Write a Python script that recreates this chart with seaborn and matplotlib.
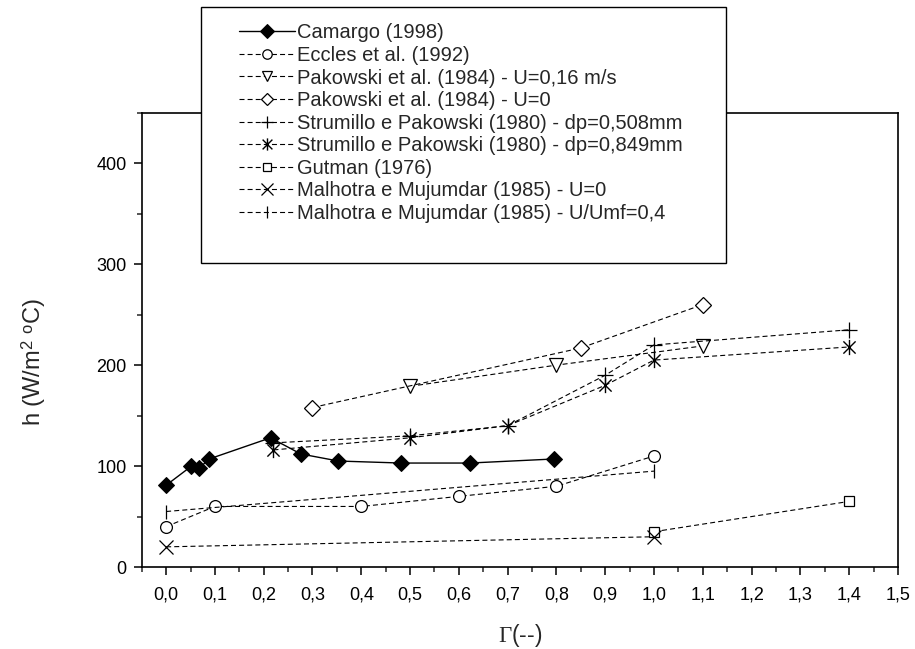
import numpy as np
import matplotlib
matplotlib.use("Agg")
import matplotlib.pyplot as plt
from matplotlib.path import Path
from matplotlib.patches import Rectangle
import seaborn as sns

# ---------------- data ----------------
camargo_x = [0.0, 0.052, 0.068, 0.088, 0.214, 0.276, 0.353, 0.482, 0.622, 0.794]
camargo_y = [81, 100, 98, 107, 128, 112, 105, 103, 103, 107]

eccles_x = [0.0, 0.1, 0.4, 0.6, 0.8, 1.0]
eccles_y = [40, 60, 60, 70, 80, 110]

pak016_x = [0.5, 0.8, 1.1]
pak016_y = [179, 200, 219]

pak0_x = [0.3, 0.85, 1.1]
pak0_y = [158, 217, 260]

str508_x = [0.22, 0.5, 0.7, 0.9, 1.0, 1.4]
str508_y = [123, 130, 140, 190, 220, 235]

str849_x = [0.22, 0.5, 0.7, 0.9, 1.0, 1.4]
str849_y = [116, 128, 140, 180, 205, 218]

gutman_x = [1.0, 1.4]
gutman_y = [35, 65]

malU0_x = [0.0, 1.0]
malU0_y = [20, 30]

malU04_x = [0.0, 1.0]
malU04_y = [55, 95]

labels = [
    "Camargo (1998)",
    "Eccles et al. (1992)",
    "Pakowski et al. (1984) - U=0,16 m/s",
    "Pakowski et al. (1984) - U=0",
    "Strumillo e Pakowski (1980) - dp=0,508mm",
    "Strumillo e Pakowski (1980) - dp=0,849mm",
    "Gutman (1976)",
    "Malhotra e Mujumdar (1985) - U=0",
    "Malhotra e Mujumdar (1985) - U/Umf=0,4",
]

x_ticks = [0.0, 0.1, 0.2, 0.3, 0.4, 0.5, 0.6, 0.7, 0.8, 0.9, 1.0, 1.1, 1.2, 1.3, 1.4, 1.5]
x_tick_labels = ["0,0", "0,1", "0,2", "0,3", "0,4", "0,5", "0,6", "0,7",
                 "0,8", "0,9", "1,0", "1,1", "1,2", "1,3", "1,4", "1,5"]
y_ticks = [0, 100, 200, 300, 400]

# ---------------- style ----------------
sns.set_theme(style="ticks")
plt.rcParams["font.family"] = ["Liberation Sans", "DejaVu Sans"]
plt.rcParams["mathtext.fontset"] = "custom"
plt.rcParams["mathtext.rm"] = "Liberation Serif"
plt.rcParams["mathtext.sf"] = "Liberation Sans"
plt.rcParams["mathtext.it"] = "Liberation Serif:italic"
plt.rcParams["axes.linewidth"] = 1.2

fig = plt.figure(figsize=(9.15, 6.49), dpi=100)
ax = fig.add_axes([0.1549, 0.1263, 0.8265, 0.700])

# asterisk marker: vertical + two diagonals
ast = Path([(0, -1), (0, 1), (-0.8, -0.8), (0.8, 0.8), (-0.8, 0.8), (0.8, -0.8)],
           [Path.MOVETO, Path.LINETO, Path.MOVETO, Path.LINETO, Path.MOVETO, Path.LINETO])

dash = (0, (4.5, 2.8))
common = dict(color="black", estimator=None, sort=False, ax=ax)

series = [
    (camargo_x, camargo_y, dict(marker="D", markersize=8.5, markerfacecolor="black",
                                markeredgecolor="black", linestyle="-", linewidth=1.0, zorder=6)),
    (eccles_x, eccles_y, dict(marker="o", markersize=8.5, markerfacecolor="white",
                              markeredgecolor="black", markeredgewidth=0.9)),
    (pak016_x, pak016_y, dict(marker="v", markersize=9.5, markerfacecolor="white",
                              markeredgecolor="black", markeredgewidth=0.9)),
    (pak0_x, pak0_y, dict(marker="D", markersize=8, markerfacecolor="white",
                          markeredgecolor="black", markeredgewidth=0.9)),
    (str508_x, str508_y, dict(marker="+", markersize=11, markeredgecolor="black",
                              markeredgewidth=0.9)),
    (str849_x, str849_y, dict(marker=ast, markersize=11, markeredgecolor="black",
                              markeredgewidth=1.0)),
    (gutman_x, gutman_y, dict(marker="s", markersize=7.5, markerfacecolor="white",
                              markeredgecolor="black", markeredgewidth=0.9)),
    (malU0_x, malU0_y, dict(marker="x", markersize=10, markeredgecolor="black",
                            markeredgewidth=0.9)),
    (malU04_x, malU04_y, dict(marker="|", markersize=10, markeredgecolor="black",
                              markeredgewidth=0.9)),
]

for (xs, ys, kw), lab in zip(series, labels):
    kw = dict(kw)
    if "linestyle" not in kw:
        kw["linestyle"] = dash
        kw["linewidth"] = 0.8
    sns.lineplot(x=xs, y=ys, label=lab, **common, **kw)

ax.set_xlim(-0.05, 1.5)
ax.set_ylim(0, 450)
ax.set_xticks(x_ticks)
ax.set_xticklabels(x_tick_labels)
ax.set_yticks(y_ticks)
ax.set_xticks(np.arange(-0.05, 1.5, 0.1), minor=True)
ax.set_yticks([50, 150, 250, 350, 450], minor=True)
ax.tick_params(axis="both", which="major", direction="out", length=6, width=1.1,
               labelsize=13, colors="black")
ax.tick_params(axis="both", which="minor", direction="out", length=3.5, width=1.1)
ax.tick_params(axis="x", which="major", pad=8)
ax.tick_params(axis="y", which="major", pad=5)
for s in ax.spines.values():
    s.set_visible(True)
    s.set_color("black")
ax.grid(False)

ax.set_xlabel(r"$\Gamma$(--)", fontsize=16.5)
ax.set_ylabel(r"h (W/m$^{\mathsf{2}}$ $^{\mathsf{o}}$C)", fontsize=17)
ax.xaxis.set_label_coords(0.5, -0.122)
ax.yaxis.set_label_coords(-0.124, 0.451)

# legend
handles, labs = ax.get_legend_handles_labels()
ax.get_legend().remove()
box = Rectangle((201 / 915, 1 - 263 / 649), (726 - 201) / 915, (263 - 7) / 649,
                transform=fig.transFigure, facecolor="white", edgecolor="black",
                linewidth=1.0, zorder=10)
fig.patches.append(box)
leg = fig.legend(handles, labs, loc="upper left",
                 bbox_to_anchor=(239 / 915, 1 - 23.5 / 649),
                 frameon=False, fontsize=14.5, handlelength=2.78, handletextpad=0.1,
                 labelspacing=0.175, borderpad=0, borderaxespad=0, markerscale=0.8)
leg.set_zorder(11)

fig.savefig("out.png", dpi=100)
